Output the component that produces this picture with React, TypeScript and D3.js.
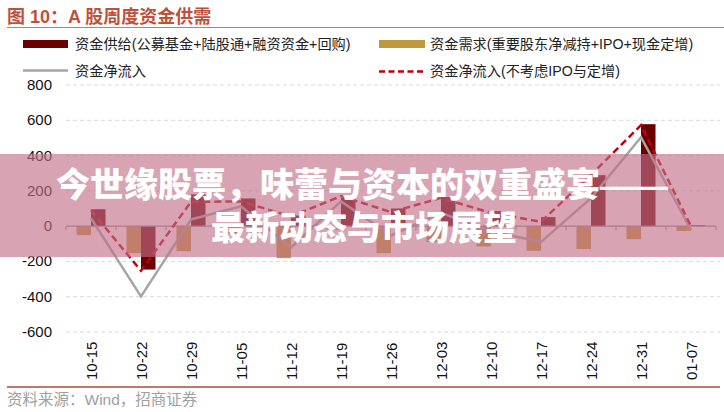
import React from "react";
import * as d3 from "d3";

const categories = ["10-15","10-22","10-29","11-05","11-12","11-19","11-26","12-03","12-10","12-17","12-24","12-31","01-07"];
const supply = [96, -246, 180, 157, 60, 160, 100, 165, 85, 51, 289, 578, 5];
const demand = [-51, -153, -142, -45, -181, -20, -153, -90, -115, -140, -130, -74, -27];
const netFlow = [45, -399, 38, 112, -121, 140, -53, 75, -30, -89, 159, 504, -22];
const netFlowExIPO = [90, -253, 138, 140, 55, 170, 80, 160, 75, 25, 290, 572, 0];
const yTicks = [-600, -400, -200, 0, 200, 400, 600, 800];

const W = 724, H = 412;
const CJK = "'Liberation Sans', 'Noto Sans CJK SC', sans-serif";

export default function App() {
  const x = d3.scaleBand<string>().domain(categories).range([66, 716]).paddingInner(0).paddingOuter(0);
  const y = d3.scaleLinear().domain([-600, 800]).range([332, 85]);
  const bw = x.bandwidth() * 0.29;
  const cx = (c: string) => (x(c) as number) + x.bandwidth() / 2;
  const line = d3.line<number>().x((_, i) => cx(categories[i])).y(d => y(d));

  return (
    <svg width={W} height={H} style={{ position: "absolute", left: 0, top: 0, background: "#fff" }}>
      <rect x={0} y={0} width={W} height={H} fill="#fff" />
      {/* title */}
      <text x={7} y={22.5} fontFamily={CJK} fontWeight={700} fontSize={18} fill="#c0503a">图 10：A 股周度资金供需</text>
      <line x1={7} x2={724} y1={27.5} y2={27.5} stroke="#b8806e" strokeWidth={1.2} />

      {/* legend */}
      <rect x={23} y={40} width={45} height={8} fill="#6b0000" />
      <text x={75} y={49} fontFamily={CJK} fontSize={14.2} fill="#222">资金供给(公募基金+陆股通+融资资金+回购)</text>
      <rect x={379} y={40} width={46} height={8} fill="#c09a3a" />
      <text x={430} y={49} fontFamily={CJK} fontSize={14.2} fill="#222">资金需求(重要股东净减持+IPO+现金定增)</text>
      <line x1={23} x2={68} y1={70.5} y2={70.5} stroke="#a6a6a6" strokeWidth={2.5} />
      <text x={75} y={75.5} fontFamily={CJK} fontSize={14.2} fill="#222">资金净流入</text>
      <line x1={379} x2={425} y1={71.5} y2={71.5} stroke="#c00010" strokeWidth={2.5} strokeDasharray="6,3.5" />
      <text x={430} y={75.5} fontFamily={CJK} fontSize={14.2} fill="#222">资金净流入(不考虑IPO与定增)</text>

      {/* grid + y labels */}
      {yTicks.map(t => (
        <g key={t}>
          {t !== 0 && (
            <line x1={66} x2={720} y1={y(t)} y2={y(t)} stroke="#d9d9d9" strokeWidth={1} strokeDasharray="4,3" />
          )}
          <text x={52} y={y(t) + 5} textAnchor="end" fontFamily="'Liberation Sans', Arial, sans-serif" fontSize={15} fill="#111">{t}</text>
        </g>
      ))}

      {/* bars */}
      {categories.map((c, i) => (
        <g key={c}>
          <rect x={cx(c) - bw} width={bw} y={Math.min(y(0), y(demand[i]))} height={Math.abs(y(demand[i]) - y(0))} fill="#c09a3a" />
          <rect x={cx(c)} width={bw} y={Math.min(y(0), y(supply[i]))} height={Math.abs(y(supply[i]) - y(0))} fill="#6b0000" />
        </g>
      ))}

      {/* zero axis */}
      <line x1={66} x2={716} y1={y(0)} y2={y(0)} stroke="#8c8c8c" strokeWidth={1.2} />
      {d3.range(categories.length + 1).map(i => (
        <line key={i} x1={66 + i * x.bandwidth()} x2={66 + i * x.bandwidth()} y1={y(0)} y2={y(0) + 4} stroke="#8c8c8c" strokeWidth={1} />
      ))}

      {/* lines */}
      <path d={line(netFlow) || ""} fill="none" stroke="#a6a6a6" strokeWidth={2.5} />
      <path d={line(netFlowExIPO) || ""} fill="none" stroke="#c00010" strokeWidth={2.5} strokeDasharray="7,4" />

      {/* x labels */}
      {categories.map(c => (
        <text key={c} transform={`translate(${cx(c) + 6},380) rotate(-90)`} fontFamily="'Liberation Sans', Arial, sans-serif" fontSize={15} fill="#111">{c}</text>
      ))}

      {/* bottom line + source */}
      <line x1={7} x2={720} y1={387} y2={387} stroke="#c07868" strokeWidth={2} />
      <text x={7} y={405} fontFamily={CJK} fontSize={15.5} fill="#a0a0a0">资料来源：Wind，招商证券</text>

      {/* overlay banner */}
      <rect x={0} y={154} width={W} height={103} fill="rgb(194,111,136)" fillOpacity={0.63} />
      <text x={362} y={196.5} textAnchor="middle" fontFamily="'Liberation Sans', 'Noto Sans CJK SC', sans-serif" fontWeight={900} fontSize={34} fill="#fff">今世缘股票，味蕾与资本的双重盛宴——</text>
      <text x={364} y={240} textAnchor="middle" fontFamily="'Liberation Sans', 'Noto Sans CJK SC', sans-serif" fontWeight={900} fontSize={34} fill="#fff">最新动态与市场展望</text>
    </svg>
  );
}
